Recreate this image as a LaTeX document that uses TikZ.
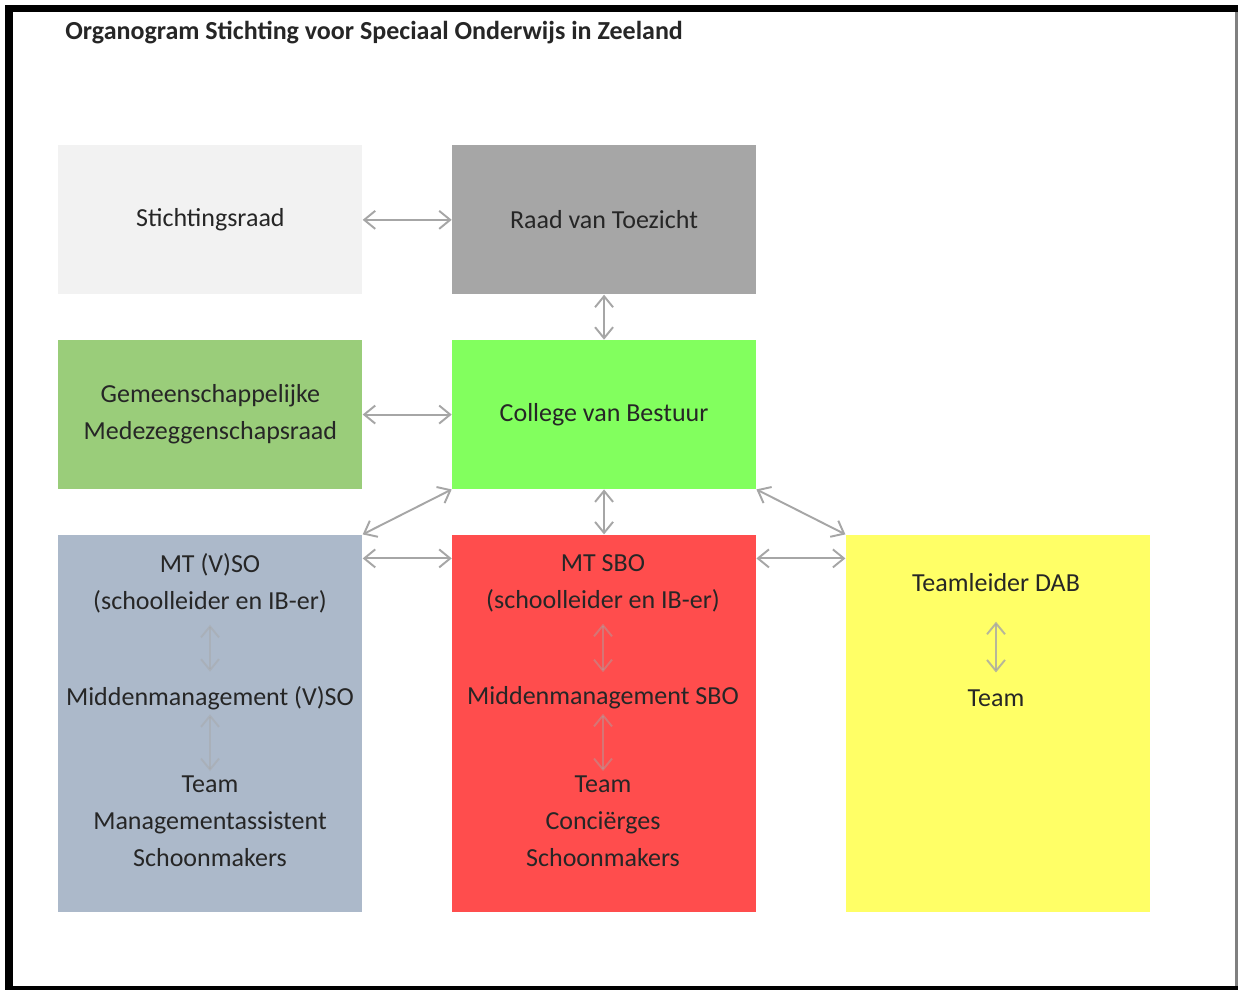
\documentclass[tikz,border=0pt]{standalone}
\usepackage{fontspec}
\setmainfont{Carlito}
\usetikzlibrary{positioning,arrows.meta}

\definecolor{srgrey}{HTML}{F2F2F2}
\definecolor{rvtgrey}{HTML}{A6A6A6}
\definecolor{gmrgreen}{HTML}{9ACD7A}
\definecolor{cvbgreen}{HTML}{82FF5E}
\definecolor{vsoblue}{HTML}{ACB9CA}
\definecolor{sbored}{HTML}{FF4D4D}
\definecolor{dabyellow}{HTML}{FFFF66}
\definecolor{linkgrey}{HTML}{A6A6A6}
\definecolor{txt}{HTML}{262626}

\begin{document}
\begin{tikzpicture}[
			node distance=0.9cm and 1.78cm,
			box/.style={rectangle, minimum width=6.08cm, minimum height=2.98cm, align=center, inner sep=0pt, text=txt, font=\fontsize{14.8}{21}\selectfont},
			tallbox/.style={box, minimum height=7.54cm},
			inner/.style={align=center, inner sep=1pt, text=txt, font=\fontsize{14.8}{21}\selectfont},
			link/.style={{Straight Barb[length=2.2mm,width=3.6mm]}-{Straight Barb[length=2.2mm,width=3.6mm]}, draw=linkgrey, line width=1.1pt},
			sublink/.style={link, opacity=0.45}
			]
			% Kader
			\fill[white] (0,0) rectangle (24.76,-19.8);
			\fill[black] (0.1,-0.1) rectangle (24.76,-19.8);
			\fill[white] (0.26,-0.24) rectangle (24.7,-19.72);
			\fill[gray] (24.7,-0.24) rectangle (24.76,-19.72);
			\node[anchor=west, inner sep=0pt, text=txt, font=\fontsize{14.8}{17}\selectfont\bfseries] (titel) at (1.3,-0.66) {Organogram Stichting voor Speciaal Onderwijs in Zeeland};

			% Bestuur
			\node[box, fill=srgrey, anchor=north west] (sr) at (1.16,-2.9) {Stichtingsraad};
			\node[box, fill=rvtgrey, right=of sr] (rvt) {Raad van Toezicht};
			\node[box, fill=gmrgreen, below=of sr] (gmr) {Gemeenschappelijke\\Medezeggenschapsraad};
			\node[box, fill=cvbgreen, below=of rvt] (cvb) {College van Bestuur};

			% Scholen
			\node[tallbox, fill=vsoblue, below=of gmr.south, anchor=north] (vso) {};
			\node[tallbox, fill=sbored, below=of cvb.south, anchor=north] (sbo) {};
			\node[tallbox, fill=dabyellow, right=of sbo] (dab) {};

			% Teksten in de scholen
			\node[inner] (vsomt) at (4.2,-11.66) {MT (V)SO\\(schoolleider en IB-er)};
			\node[inner] (vsomm) at (4.2,-13.96) {Middenmanagement (V)SO};
			\node[inner] (vsoteam) at (4.2,-16.42) {Team\\Managementassistent\\Schoonmakers};
			\node[inner] (sbomt) at (12.06,-11.66) {MT SBO\\(schoolleider en IB-er)};
			\node[inner] (sbomm) at (12.06,-13.96) {Middenmanagement SBO};
			\node[inner] (sboteam) at (12.06,-16.42) {Team\\Conciërges\\Schoonmakers};
			\node[inner] (dabtl) at (19.92,-11.66) {Teamleider DAB};
			\node[inner] (dabteam) at (19.92,-13.96) {Team};

			% Pijlen tussen de blokken
			\draw[link] (sr) -- (rvt);
			\draw[link] (rvt) -- (cvb);
			\draw[link] (gmr) -- (cvb);
			\draw[link] (cvb.south west) -- (vso.north east);
			\draw[link] (cvb) -- (sbo);
			\draw[link] (cvb.south east) -- (dab.north west);
			\draw[link] (vso.north east) ++(0,-0.48) coordinate (a1) -- (a1 -| sbo.west);
			\draw[link] (sbo.north east) ++(0,-0.48) coordinate (a2) -- (a2 -| dab.west);

			% Pijlen binnen de blokken
			\draw[sublink, shorten <=0.2cm, shorten >=0.25cm] (vsomt) -- (vsomm);
			\draw[sublink, shorten <=0.05cm, shorten >=0.05cm] (vsomm) -- (vsoteam);
			\draw[sublink, shorten <=0.2cm, shorten >=0.25cm] (sbomt) -- (sbomm);
			\draw[sublink, shorten <=0.05cm, shorten >=0.05cm] (sbomm) -- (sboteam);
			\draw[sublink, opacity=0.8, shorten <=0.55cm, shorten >=0.3cm] (dabtl) -- (dabteam);
		\end{tikzpicture}
\end{document}
